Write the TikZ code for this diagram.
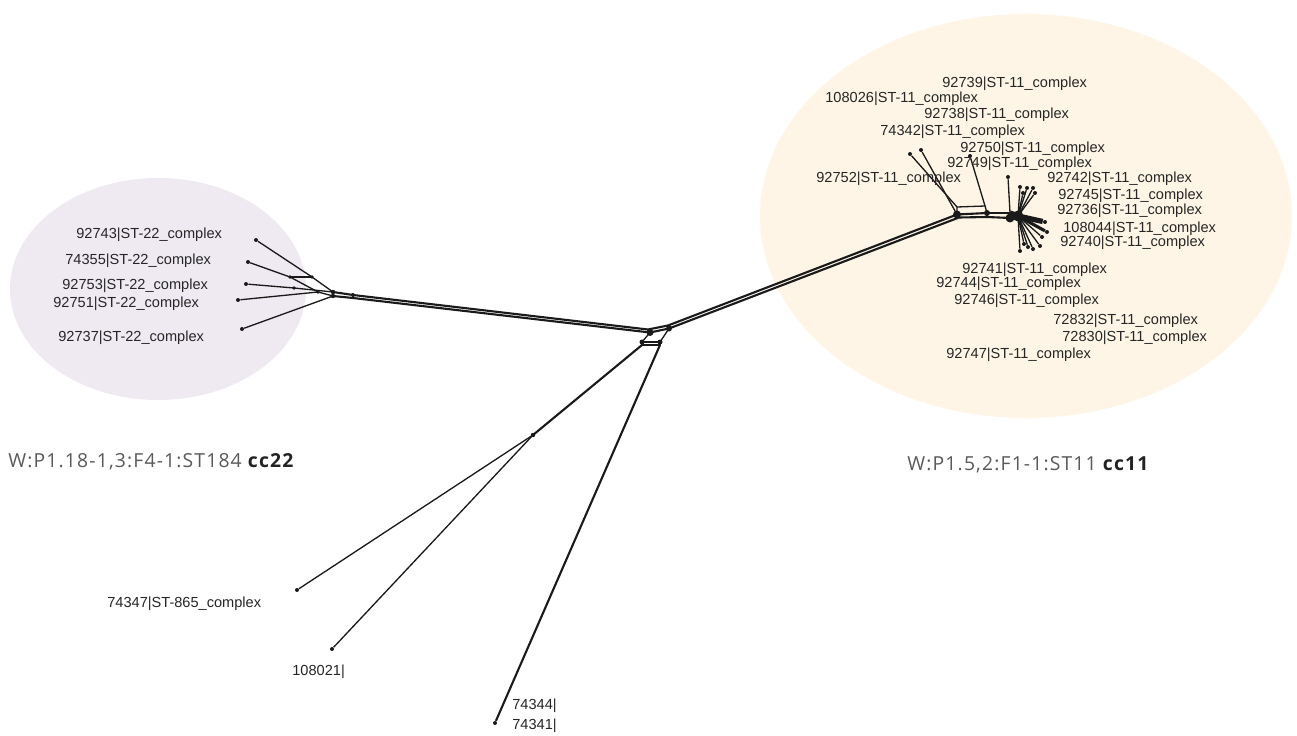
\documentclass[tikz,border=0pt]{standalone}
\usepackage{fontspec}
\setmainfont{Liberation Sans}
\newfontfamily\capfont[LetterSpace=6]{Open Sans}
\usetikzlibrary{calc}
\definecolor{cclav}{HTML}{EFEAF2}
\definecolor{cccream}{HTML}{FEF5E6}
\definecolor{edgegray}{HTML}{1A1A1A}
\definecolor{labgray}{HTML}{262626}
\definecolor{capgray}{HTML}{5A5A5A}
\definecolor{capdark}{HTML}{222222}
\tikzset{
  edge/.style={draw=edgegray, line width=0.75pt},
  band/.style={draw=edgegray, line width=1.2pt},
  tip/.style={circle, fill=edgegray, inner sep=0pt, minimum size=0.08cm},
  lab/.style={anchor=west, inner sep=0pt, text=labgray, font=\fontsize{8.3}{9}\selectfont},
  captext/.style={anchor=west, inner sep=0pt, text=capgray, font=\capfont\fontsize{11}{13}\selectfont},
}

\begin{document}
\begin{tikzpicture}[x=0.02cm, y=-0.02cm]
		%%%%% START %%%%%
		\fill[white] (0, 0) rectangle (1297, 736);
		\useasboundingbox (0, 0) rectangle (1297, 736);
		
		% cluster shading
		\fill[cclav] (158, 289) ellipse [x radius=2.96cm, y radius=2.22cm];
		\fill[cccream] (1026, 216) ellipse [x radius=5.32cm, y radius=4.04cm];
		
		% left cluster (cc22)
		\node[tip] (t92743) at (256, 240) {};
		\node[tip] (t74355) at (248, 262) {};
		\node[tip] (t92753) at (246, 284) {};
		\node[tip] (t92751) at (238, 300) {};
		\node[tip] (t92737) at (242, 329) {};
		\coordinate (la) at (312, 277);
		\coordinate (lb) at (290, 277);
		\coordinate (lc) at (294, 288);
		\coordinate (ld) at (318, 292);
		\coordinate (le) at (333, 292);
		\coordinate (lf) at (333, 296);
		\coordinate (lg) at (353, 295);
		\coordinate (lh) at (353, 298);
		\draw[edge] (t92743) -- (la) -- (le);
		\draw[edge] (t74355) -- (lb) -- (ld);
		\draw[edge] (lb) -- (la);
		\draw[edge] (t92753) -- (lc) -- (le);
		\draw[edge] (t92751) -- (ld) -- (lf);
		\draw[edge] (t92737) -- (lf);
		\draw[band] (le) -- (lg);
		\draw[band] (lf) -- (lh);
		\draw[edge] (le) -- (lf);
		\draw[edge] (lg) -- (lh);
		\fill[edgegray] (la) circle (1.8);
		\fill[edgegray] (lb) circle (1.8);
		\fill[edgegray] (lc) circle (1.8);
		\fill[edgegray] (ld) circle (1.8);
		\fill[edgegray] (le) circle (2.2);
		\fill[edgegray] (lf) circle (2.2);
		\fill[edgegray] (lg) circle (2);
		
		% centre
		\coordinate (ca) at (648, 329.5);
		\coordinate (cb) at (650, 332.5);
		\coordinate (cc) at (668, 325.5);
		\coordinate (cd) at (669, 328.5);
		\coordinate (ce) at (642, 342);
		\coordinate (cf) at (660, 342);
		\coordinate (cg) at (642, 345);
		\coordinate (ch) at (660, 345);
		\coordinate (bj) at (533, 435);
		\draw[band] (lg) -- (ca);
		\draw[band] (lh) -- (cb);
		\draw[band] (ca) -- (cc);
		\draw[band] (cb) -- (cd);
		\draw[edge] (ca) -- (cb);
		\draw[edge] (cc) -- (cd);
		\draw[edge] (cb) -- (ce);
		\draw[edge] (cd) -- (cf);
		\draw[edge] (ce) -- (cf);
		\draw[edge] (cg) -- (ch);
		\draw[edge] (ce) -- (cg);
		\draw[edge] (cf) -- (ch);
		\fill[edgegray] (cb) circle (3.5);
		\fill[edgegray] (cd) circle (3);
		\fill[edgegray] (ce) circle (2.5);
		\fill[edgegray] (cf) circle (2.5);
		
		% lower branches
		\node[tip] (t74347) at (297, 590) {};
		\node[tip] (t108021) at (332, 649) {};
		\node[tip] (t74344) at (495, 723) {};
		\draw[band] (cg) -- (bj);
		\fill[edgegray] (bj) circle (2.2);
		\draw[edge] (bj) -- (t74347);
		\draw[edge] (bj) -- (t108021);
		\draw[band] (ch) -- (t74344);
		
		% right cluster (cc11)
		\coordinate (ra) at (957, 214.5);
		\coordinate (rb) at (959, 217.5);
		\coordinate (rc) at (957, 207);
		\coordinate (rd) at (985, 206);
		\coordinate (re) at (987, 213);
		\coordinate (rf) at (987, 217);
		\coordinate (rg) at (1010, 213);
		\coordinate (rh) at (1010, 218);
		\coordinate (ri) at (1018, 216);
		\draw[band] (cc) -- (ra);
		\draw[band] (cd) -- (rb);
		\draw[edge] (ra) -- (rc) -- (rd) -- (re);
		\draw[band] (ra) -- (re);
		\draw[band] (rb) -- (rf);
		\draw[edge] (ra) -- (rb);
		\draw[edge] (re) -- (rf);
		\draw[band] (re) -- (rg);
		\draw[band] (rf) -- (rh);
		\draw[edge] (rg) -- (rh);
		\draw[line width=3pt, edgegray] (rg) -- (ri);
		\fill[edgegray] (ra) circle (4);
		\fill[edgegray] (re) circle (3);
		\fill[edgegray] (rh) circle (4.5);
		
		\node[tip] (tr1) at (910, 154) {};
		\node[tip] (tr2) at (921, 150) {};
		\node[tip] (tr3) at (970, 156) {};
		\node[tip] (tr4) at (1008, 177) {};
		\node[tip] (tr5) at (1020, 187) {};
		\node[tip] (tr6) at (1027, 188) {};
		\node[tip] (tr7) at (1033, 188) {};
		\node[tip] (tr8) at (1023, 193) {};
		\node[tip] (tr9) at (1035, 193) {};
		\node[tip] (tr10) at (1045, 222) {};
		\node[tip] (tr11) at (1047, 232) {};
		\node[tip] (tr12) at (1040, 246) {};
		\node[tip] (tr13) at (1033, 249) {};
		\node[tip] (tr14) at (1028, 247) {};
		\node[tip] (tr15) at (1020, 251) {};
		\node[tip] (tr16) at (1042, 237) {};
		\node[tip] (tr17) at (1024, 244) {};
		\draw[edge] (tr1) -- (rc);
		\draw[edge] (tr2) -- (ra);
		\draw[edge] (tr3) -- (rd);
		\draw[edge] (tr4) -- (rg);
		\draw[edge] (tr5) -- (ri);
		\draw[edge] (tr6) -- (ri);
		\draw[edge] (tr7) -- (ri);
		\draw[edge] (tr8) -- (ri);
		\draw[edge] (tr9) -- (ri);
		\draw[line width=3pt, edgegray] (ri) -- (tr10);
		\draw[line width=1.8pt, edgegray] (ri) -- (tr11);
		\draw[edge] (ri) -- (tr12);
		\draw[edge] (ri) -- (tr13);
		\draw[edge] (ri) -- (tr14);
		\draw[edge] (ri) -- (tr15);
		\draw[edge] (ri) -- (tr16);
		\draw[edge] (ri) -- (tr17);
		\fill[edgegray] (ri) circle (5.5);
		
		% labels, left
		\node[lab] (l92743) at (76, 235) {92743|ST-22\_complex};
		\node[lab] (l74355) at (65, 261) {74355|ST-22\_complex};
		\node[lab] (l92753) at (62, 286) {92753|ST-22\_complex};
		\node[lab] (l92751) at (53, 304) {92751|ST-22\_complex};
		\node[lab] (l92737) at (58, 338) {92737|ST-22\_complex};
		
		% labels, right
		\node[lab] (l92739) at (942, 84) {92739|ST-11\_complex};
		\node[lab] (l108026) at (825, 99) {108026|ST-11\_complex};
		\node[lab] (l92738) at (924, 115) {92738|ST-11\_complex};
		\node[lab] (l74342) at (880, 132) {74342|ST-11\_complex};
		\node[lab] (l92750) at (960, 149) {92750|ST-11\_complex};
		\node[lab] (l92749) at (947, 164) {92749|ST-11\_complex};
		\node[lab] (l92752) at (816, 179) {92752|ST-11\_complex};
		\node[lab] (l92742) at (1047, 179) {92742|ST-11\_complex};
		\node[lab] (l92745) at (1058, 196) {92745|ST-11\_complex};
		\node[lab] (l92736) at (1057, 211) {92736|ST-11\_complex};
		\node[lab] (l108044) at (1063, 229) {108044|ST-11\_complex};
		\node[lab] (l92740) at (1060, 243) {92740|ST-11\_complex};
		\node[lab] (l92741) at (962, 270) {92741|ST-11\_complex};
		\node[lab] (l92744) at (936, 284) {92744|ST-11\_complex};
		\node[lab] (l92746) at (954, 301) {92746|ST-11\_complex};
		\node[lab] (l72832) at (1053, 321) {72832|ST-11\_complex};
		\node[lab] (l72830) at (1062, 338) {72830|ST-11\_complex};
		\node[lab] (l92747) at (946, 355) {92747|ST-11\_complex};
		
		% labels, bottom
		\node[lab] (l74347) at (107, 604) {74347|ST-865\_complex};
		\node[lab] (l108021) at (292, 672) {108021|};
		\node[lab] (l74344) at (512, 706) {74344|};
		\node[lab] (l74341) at (512, 726) {74341|};
		
		% captions
		\node[captext] (capl) at (8, 462) {W:P1.18-1,3:F4-1:ST184 \textcolor{capdark}{\bfseries cc22}};
		\node[captext] (capr) at (907, 465) {W:P1.5,2:F1-1:ST11 \textcolor{capdark}{\bfseries cc11}};
		%%%%% END %%%%%
	\end{tikzpicture}
\end{document}
